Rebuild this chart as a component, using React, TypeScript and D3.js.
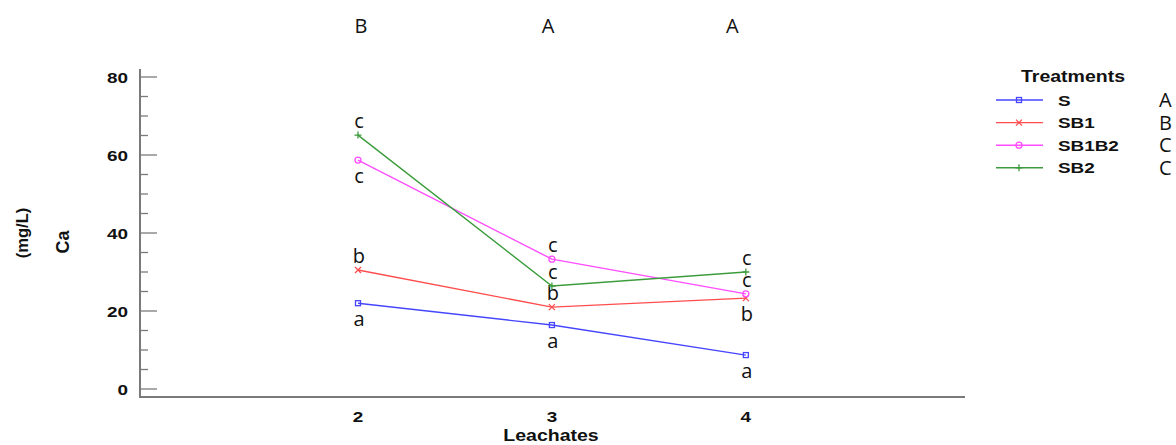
import React from "react";
import * as d3 from "d3";

const leachates = [2, 3, 4];
const seriesNames = ["S", "SB1", "SB1B2", "SB2"];
const sValues = [22.0, 16.4, 8.7];
const sb1Values = [30.5, 21.0, 23.3];
const sb1b2Values = [58.7, 33.3, 24.4];
const sb2Values = [65.1, 26.4, 30.0];
const sLetters = ["a", "a", "a"];
const sb1Letters = ["b", "b", "b"];
const sb1b2Letters = ["c", "c", "c"];
const sb2Letters = ["c", "c", "c"];
const sPlace = ["below", "below", "below"];
const sb1Place = ["above", "above", "below"];
const sb1b2Place = ["below", "above", "above"];
const sb2Place = ["above", "above", "above"];
const treatmentGroups = ["A", "B", "C", "C"];
const leachateGroups = ["B", "A", "A"];
const leachateGroupPos = [2.015, 2.98, 3.93];
const yTicks = [0, 20, 40, 60, 80];
const yMinorTicks = d3.range(0, 81, 5);
const colors = ["#4646ff", "#ff4d4d", "#ff4dff", "#3c9c3c"];
const markers = ["square", "x", "circle", "plus"];

const W = 1176, H = 445;
const SX = 1.22;

function Marker({ type, x, y, color }: { type: string; x: number; y: number; color: string }) {
  if (type === "square") return <rect x={x - 2.5} y={y - 2.5} width={5} height={5} fill="none" stroke={color} strokeWidth={1.3} />;
  if (type === "circle") return <circle cx={x} cy={y} r={3} fill="none" stroke={color} strokeWidth={1.3} />;
  if (type === "x") return <path d={`M${x - 3},${y - 3}L${x + 3},${y + 3}M${x - 3},${y + 3}L${x + 3},${y - 3}`} stroke={color} strokeWidth={1.3} />;
  return <path d={`M${x - 3.5},${y}L${x + 3.5},${y}M${x},${y - 3.5}L${x},${y + 3.5}`} stroke={color} strokeWidth={1.3} />;
}

function SText({ x, y, anchor = "middle", size = 15, bold = true, children, rotate = 0 }: any) {
  return (
    <g transform={`translate(${x},${y}) rotate(${rotate}) scale(${rotate ? 1 : SX},${rotate ? SX : 1})`}>
      <text textAnchor={anchor} fontFamily="Liberation Sans, Arial, sans-serif" fontWeight={bold ? "bold" : "normal"} fontSize={size} fill="#111">
        {children}
      </text>
    </g>
  );
}

export default function App() {
  const x = d3.scaleLinear().domain([0.876, 5.13]).range([140, 965]);
  const y = d3.scaleLinear().domain([0, 80]).range([389, 77]);
  const series = [sValues, sb1Values, sb1b2Values, sb2Values];
  const letters = [sLetters, sb1Letters, sb1b2Letters, sb2Letters];
  const places = [sPlace, sb1Place, sb1b2Place, sb2Place];
  const line = d3.line<number>().x((_, i) => x(leachates[i])).y((d) => y(d));
  const calibri = "'Open Sans', Carlito, Calibri, sans-serif";

  return (
    <svg width={W} height={H} style={{ position: "absolute", left: 0, top: 0, background: "#fff" }}>
      <rect width={W} height={H} fill="#fff" />
      {/* axes */}
      <line x1={140} x2={140} y1={69} y2={398} stroke="#7a7a7a" strokeWidth={2} />
      <line x1={139} x2={965} y1={397} y2={397} stroke="#7a7a7a" strokeWidth={2} />
      {yMinorTicks.map((t) => (
        <line key={"m" + t} x1={140} x2={yTicks.includes(t) ? 157 : 148} y1={y(t)} y2={y(t)} stroke="#7a7a7a" strokeWidth={1.3} />
      ))}
      {yTicks.map((t) => (
        <SText key={"yl" + t} x={128} y={y(t) + 6} anchor="end" size={15.5}>{t}</SText>
      ))}
      {leachates.map((c) => (
        <SText key={"xl" + c} x={x(c)} y={422} size={15.5}>{c}</SText>
      ))}
      <SText x={551} y={441} size={16}>Leachates</SText>
      <text transform="translate(69,242) rotate(-90)" textAnchor="middle" fontFamily="Liberation Sans, Arial, sans-serif" fontWeight="bold" fontSize={18} fill="#111">Ca</text>
      <text transform="translate(28,233) rotate(-90)" textAnchor="middle" fontFamily="Liberation Sans, Arial, sans-serif" fontWeight="bold" fontSize={16.5} fill="#111">(mg/L)</text>
      {/* series */}
      {series.map((vals, si) => (
        <g key={"s" + si}>
          <path d={line(vals) || ""} fill="none" stroke={colors[si]} strokeWidth={1.4} />
          {vals.map((v, i) => (
            <Marker key={i} type={markers[si]} x={x(leachates[i])} y={y(v)} color={colors[si]} />
          ))}
          {vals.map((v, i) => (
            <text key={"l" + i} x={x(leachates[i]) + 1} y={y(v) + (places[si][i] === "above" ? -7 : 23)} textAnchor="middle" fontFamily={calibri} fontSize={20} fill="#111">
              {letters[si][i]}
            </text>
          ))}
        </g>
      ))}
      {leachateGroups.map((g, i) => (
        <text key={"g" + i} x={x(leachateGroupPos[i])} y={33} textAnchor="middle" fontFamily={calibri} fontSize={20} fill="#111">{g}</text>
      ))}
      {/* legend */}
      <SText x={1073} y={82} size={16}>Treatments</SText>
      {seriesNames.map((n, i) => {
        const ly = 100 + i * 22.6;
        return (
          <g key={"lg" + i}>
            <line x1={996} x2={1043} y1={ly} y2={ly} stroke={colors[i]} strokeWidth={1.4} />
            <Marker type={markers[i]} x={1019} y={ly} color={colors[i]} />
            <SText x={1058} y={ly + 5.5} anchor="start" size={15.5}>{n}</SText>
            <text x={1159} y={ly + 7} fontFamily={calibri} fontSize={20} fill="#111">{treatmentGroups[i]}</text>
          </g>
        );
      })}
    </svg>
  );
}
